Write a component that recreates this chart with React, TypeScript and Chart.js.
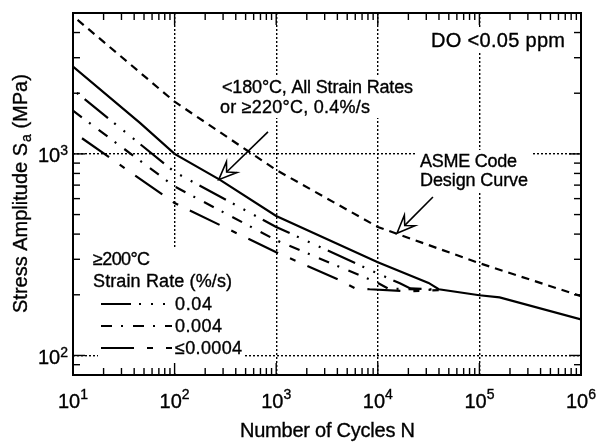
import React, { useEffect, useRef } from 'react';
import { Chart, registerables } from 'chart.js';

Chart.register(...registerables);

const FONT = '"Liberation Sans", Arial, Helvetica, sans-serif';

// ---- data (cycles N, stress amplitude Sa in MPa) ----
const asmeCycles = [10, 100, 1000, 10000, 100000, 1000000];
const asmeStress = [4830, 1815, 832, 434, 287, 197];

const lowTempCycles = [10, 45.6, 100, 280, 1000, 10000, 31600, 39800, 100000, 158000, 1000000];
const lowTempStress = [2710, 1426, 1000, 743, 492, 290, 229, 213, 199, 194, 151];

const rateA_Cycles = [10, 100, 1000, 10000, 16500, 20900, 39800];
const rateA_Stress = [2080, 813, 434, 255, 228, 215, 212];

const rateB_Cycles = [10, 100, 1000, 10000, 12600, 39800];
const rateB_Stress = [1637, 689, 373, 229, 215, 211];

const rateC_Cycles = [10, 100, 1000, 4250, 5900, 8300, 20000, 39800];
const rateC_Stress = [1285, 570, 325, 236, 216, 213, 208, 211];

const xMajorTicks = [10, 100, 1000, 10000, 100000, 1000000];
const xTickExponents = ['1', '2', '3', '4', '5', '6'];
const yMajorTicks = [100, 1000];
const yTickExponents = ['2', '3'];
const legendRates = ['0.04', '0.004', '≤0.0004'];

const X_MIN = 10;
const X_MAX = 1000000;
const Y_MIN = 80;
const Y_MAX = 5000;

const DASH_A = [30, 8, 2, 10, 2, 10, 2, 8];
const DASH_B = [11, 9, 2, 10];
const DASH_C = [33, 13, 6, 13];
const DASH_ASME = [8, 6];

const pts = (xs: number[], ys: number[]) => xs.map((x, i) => ({ x, y: ys[i] }));

function paint(ctx: CanvasRenderingContext2D, text: string, x: number, y: number) {
  ctx.fillText(text, x, y);
  ctx.save();
  ctx.lineWidth = 0.35;
  ctx.strokeStyle = '#000';
  ctx.setLineDash([]);
  ctx.strokeText(text, x, y);
  ctx.restore();
}

function fitText(ctx: CanvasRenderingContext2D, text: string, x: number, y: number, size: number, width?: number) {
  ctx.font = `${size}px ${FONT}`;
  (ctx as any).letterSpacing = '0px';
  if (width) {
    const w = ctx.measureText(text).width;
    const n = Array.from(text).length;
    let ls = (width - w) / Math.max(1, n - 1);
    ls = Math.max(-1.5, Math.min(2.5, ls));
    (ctx as any).letterSpacing = `${ls}px`;
  }
  ctx.textAlign = 'left';
  ctx.textBaseline = 'alphabetic';
  paint(ctx, text, x, y);
  (ctx as any).letterSpacing = '0px';
}

function drawArrow(ctx: CanvasRenderingContext2D, x0: number, y0: number, x1: number, y1: number) {
  const dx = x1 - x0, dy = y1 - y0;
  const len = Math.hypot(dx, dy);
  const ux = dx / len, uy = dy / len;
  const px = -uy, py = ux;
  const headLen = 18, headW = 7.5, notch = 11;
  const bx = x1 - ux * headLen, by = y1 - uy * headLen;
  const nx = x1 - ux * notch, ny = y1 - uy * notch;
  ctx.save();
  ctx.strokeStyle = '#000';
  ctx.lineWidth = 1.6;
  ctx.setLineDash([]);
  ctx.beginPath();
  ctx.moveTo(x0, y0);
  ctx.lineTo(nx, ny);
  ctx.stroke();
  ctx.beginPath();
  ctx.moveTo(x1, y1);
  ctx.lineTo(bx + px * headW, by + py * headW);
  ctx.lineTo(nx, ny);
  ctx.lineTo(bx - px * headW, by - py * headW);
  ctx.closePath();
  ctx.fillStyle = '#fff';
  ctx.fill();
  ctx.stroke();
  ctx.restore();
}

const annotatePlugin = {
  id: 'annotate',
  beforeDatasetsDraw(chart: any) {
    const ctx: CanvasRenderingContext2D = chart.ctx;
    ctx.save();
    ctx.fillStyle = '#fff';
    // white boxes behind texts (interrupt the dotted grid lines)
    ctx.fillRect(428, 29, 140, 23);
    ctx.fillRect(218, 76, 198, 42);
    ctx.fillRect(415, 150, 118, 42);
    ctx.fillRect(98, 247, 147, 126);
    ctx.restore();
  },
  afterDraw(chart: any) {
    const ctx: CanvasRenderingContext2D = chart.ctx;
    const { left, right, top, bottom } = chart.chartArea;
    const xs = chart.scales.x;
    const ys = chart.scales.y;
    ctx.save();
    ctx.strokeStyle = '#000';
    ctx.fillStyle = '#000';
    ctx.setLineDash([]);
    ctx.lineWidth = 1.4;
    const seg = (a: number, b: number, c: number, d: number) => {
      ctx.beginPath();
      ctx.moveTo(a, b);
      ctx.lineTo(c, d);
      ctx.stroke();
    };
    // inward ticks on all four sides
    for (let e = 0; e <= 6; e++) {
      for (let k = 1; k <= 9; k++) {
        const v = k * Math.pow(10, e);
        if (v < X_MIN || v > X_MAX) continue;
        const p = xs.getPixelForValue(v);
        const L = k === 1 ? 12 : 7;
        seg(p, bottom, p, bottom - L);
        seg(p, top, p, top + L);
      }
    }
    for (let e = 1; e <= 3; e++) {
      for (let k = 1; k <= 9; k++) {
        const v = k * Math.pow(10, e);
        if (v < Y_MIN || v > Y_MAX) continue;
        const p = ys.getPixelForValue(v);
        const L = k === 1 ? 12 : 7;
        seg(left, p, left + L, p);
        seg(right, p, right - L, p);
      }
    }
    // frame
    ctx.lineWidth = 2;
    ctx.strokeRect(left, top, right - left, bottom - top);

    // tick labels with superscripts
    xMajorTicks.forEach((v, i) => {
      const p = xs.getPixelForValue(v);
      ctx.font = `20px ${FONT}`;
      const w1 = ctx.measureText('10').width;
      ctx.font = `14px ${FONT}`;
      const w2 = ctx.measureText(xTickExponents[i]).width;
      const s = p - (w1 + w2) / 2;
      ctx.textAlign = 'left';
      ctx.textBaseline = 'alphabetic';
      ctx.font = `20px ${FONT}`;
      paint(ctx, '10', s, bottom + 33);
      ctx.font = `14px ${FONT}`;
      paint(ctx, xTickExponents[i], s + w1, bottom + 24);
    });
    yMajorTicks.forEach((v, i) => {
      const p = ys.getPixelForValue(v);
      ctx.font = `14px ${FONT}`;
      const w2 = ctx.measureText(yTickExponents[i]).width;
      ctx.font = `20px ${FONT}`;
      const w1 = ctx.measureText('10').width;
      const s = left - 5 - w2 - w1;
      ctx.textAlign = 'left';
      ctx.textBaseline = 'alphabetic';
      paint(ctx, '10', s, p + 8.5);
      ctx.font = `14px ${FONT}`;
      paint(ctx, yTickExponents[i], s + w1, p + 1.5);
    });

    // axis titles
    fitText(ctx, 'Number of Cycles N', 240, bottom + 61.5, 20, 175);
    ctx.save();
    ctx.translate(27, 313);
    ctx.rotate(-Math.PI / 2);
    ctx.font = `20px ${FONT}`;
    ctx.textAlign = 'left';
    ctx.textBaseline = 'alphabetic';
    const t1 = 'Stress Amplitude S';
    paint(ctx, t1, 0, 0);
    let tx = ctx.measureText(t1).width + 1;
    ctx.font = `14px ${FONT}`;
    paint(ctx, 'a', tx, 4);
    tx += ctx.measureText('a').width;
    ctx.font = `20px ${FONT}`;
    paint(ctx, ' (MPa)', tx, 0);
    ctx.restore();

    // annotations
    fitText(ctx, 'DO <0.05 ppm', 431, 46.5, 20, 134);
    fitText(ctx, '<180°C, All Strain Rates', 222, 93, 18, 191);
    fitText(ctx, 'or ≥220°C, 0.4%/s', 220, 113, 18, 150);
    fitText(ctx, 'ASME Code', 420, 167, 18, 97);
    fitText(ctx, 'Design Curve', 420, 186, 18, 108);

    // arrows (tips anchored to data coordinates)
    drawArrow(ctx, xs.getPixelForValue(830), ys.getPixelForValue(1286), xs.getPixelForValue(272), ys.getPixelForValue(745));
    drawArrow(ctx, xs.getPixelForValue(34900), ys.getPixelForValue(611), xs.getPixelForValue(15450), ys.getPixelForValue(404));

    // legend
    fitText(ctx, '≥200°C', 93, 265, 18, 57);
    fitText(ctx, 'Strain Rate (%/s)', 93, 287, 18, 139);
    const dashes = [DASH_A, DASH_B, DASH_C];
    const widths = [37, 47, 67];
    legendRates.forEach((lab, i) => {
      const base = 310 + i * 22;
      ctx.save();
      ctx.lineWidth = 2;
      ctx.setLineDash(dashes[i]);
      ctx.beginPath();
      ctx.moveTo(101, base - 6);
      ctx.lineTo(172, base - 6);
      ctx.stroke();
      ctx.restore();
      fitText(ctx, lab, 175, base, 18, widths[i]);
    });
    ctx.restore();
  },
};

export default function App() {
  const ref = useRef<HTMLCanvasElement>(null);
  useEffect(() => {
    const line = (data: any, dash: number[], offset = 0) => ({
      data,
      borderColor: '#000',
      backgroundColor: '#000',
      borderWidth: 2.2,
      borderDash: dash,
      borderDashOffset: offset,
      pointRadius: 0,
      tension: 0,
      fill: false,
    });
    const chart = new Chart(ref.current as HTMLCanvasElement, {
      type: 'line',
      data: {
        datasets: [
          { label: 'ASME Code Design Curve', ...line(pts(asmeCycles, asmeStress), DASH_ASME, 8) },
          { label: '<180°C, All Strain Rates or ≥220°C, 0.4%/s', ...line(pts(lowTempCycles, lowTempStress), []) },
          { label: '0.04', ...line(pts(rateA_Cycles, rateA_Stress), DASH_A, 57) },
          { label: '0.004', ...line(pts(rateB_Cycles, rateB_Stress), DASH_B, 0) },
          { label: '≤0.0004', ...line(pts(rateC_Cycles, rateC_Stress), DASH_C, 54) },
        ] as any,
      },
      options: {
        responsive: false,
        animation: false,
        layout: { padding: { left: 73, right: 23, top: 13, bottom: 68 } },
        plugins: { legend: { display: false }, tooltip: { enabled: false } },
        scales: {
          x: {
            type: 'logarithmic',
            min: X_MIN,
            max: X_MAX,
            afterBuildTicks: (s: any) => {
              s.ticks = xMajorTicks.map((v) => ({ value: v }));
            },
            ticks: { display: false },
            grid: { color: '#000', lineWidth: 1.4, drawTicks: false },
            border: { display: false, dash: [2, 2] },
          },
          y: {
            type: 'logarithmic',
            min: Y_MIN,
            max: Y_MAX,
            afterBuildTicks: (s: any) => {
              s.ticks = yMajorTicks.map((v) => ({ value: v }));
            },
            ticks: { display: false },
            grid: { color: '#000', lineWidth: 1.4, drawTicks: false },
            border: { display: false, dash: [2, 2] },
          },
        },
      } as any,
      plugins: [annotatePlugin],
    });
    return () => chart.destroy();
  }, []);
  return (
    <div style={{ position: 'fixed', left: 0, top: 0, width: 604, height: 443, background: '#fff' }}>
      <canvas ref={ref} width={604} height={443} style={{ width: 604, height: 443, display: 'block' }} />
    </div>
  );
}
